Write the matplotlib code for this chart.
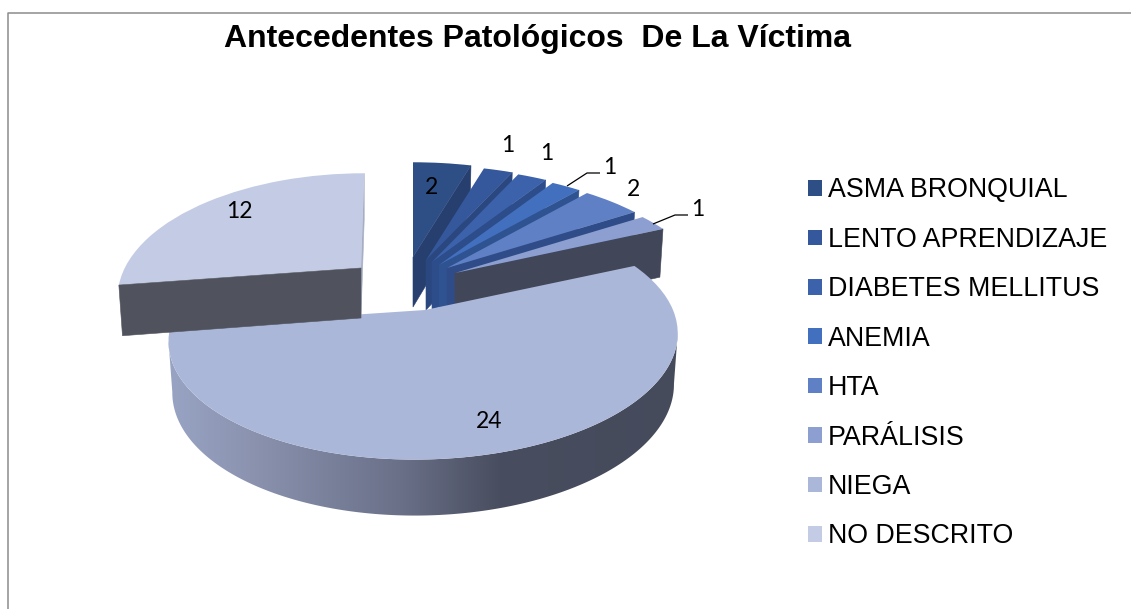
import numpy as np
import matplotlib
matplotlib.use("Agg")
import matplotlib.pyplot as plt
from matplotlib.transforms import Transform
from matplotlib.patches import Polygon
from matplotlib.colors import to_rgb

# ---- data ----
categories = ["ASMA BRONQUIAL", "LENTO APRENDIZAJE", "DIABETES MELLITUS", "ANEMIA",
              "HTA", "PARÁLISIS", "NIEGA", "NO DESCRITO"]
values = [2, 1, 1, 1, 2, 1, 24, 12]
title = "Antecedentes Patológicos  De La Víctima"

# ---- style / layout (pixel space) ----
W, H = 1131, 609
top_colors = ["#2E4E86", "#34589B", "#3B62AB", "#4270BE", "#6080C6", "#8C9FD0", "#AAB7D9", "#C3CCE4"]
face_colors = ["#263F6F", "#2A4780", "#2C4C8A", "#2F5290", "#2F4C88", "#414759", "#454B5B", "#A6AEC4"]
apex_px = [(413, 257), (426, 260), (432, 262), (439, 265), (447, 268), (455, 273), (425, 310), (361, 268)]
x_scale = [1, 1, 1, 1, 1, 1, 0.992, 0.945]
shear = [0, 0, 0, 0, 0, 0, 8, 4]
RX, RY, PERSP = 250.0, 116.0, 0.2245
DEPTH, DEPTH_GROW, X_SHRINK = 50.0, 1.04, 0.985
label_px = [(431, 188), (508, 146), (547, 153), (610, 167), (634, 190), (698, 210), (489, 421), (239, 212)]
leaders = [[(567, 186), (587, 173), (600, 173)], [(653, 224), (675, 215), (688, 215)]]
grad_x = [172, 250, 400, 500, 690]
grad_c = ["#98A3C3", "#8B93AF", "#6A7088", "#484D5F", "#454B5B"]


def rel(x, y, i):
    w = 1 + PERSP * y
    return (RX * x_scale[i] * x + shear[i] * y) / w, -RY * y / w


class Proj(Transform):
    input_dims = output_dims = 2
    is_affine = False

    def __init__(self, i):
        super().__init__()
        self.i = i

    def transform_non_affine(self, v):
        v = np.asarray(v, float)
        u, w = rel(v[:, 0], v[:, 1], self.i)
        return np.column_stack([apex_px[self.i][0] + u, apex_px[self.i][1] + w])


def pts(i, th):
    th = np.radians(np.atleast_1d(th))
    u, v = rel(np.cos(th), np.sin(th), i)
    ax_, ay_ = apex_px[i]
    return np.column_stack([ax_ + u, ay_ + v]), np.column_stack([ax_ + u * X_SHRINK, ay_ + v * DEPTH_GROW + DEPTH])


def face(ax, i, th, color, z):
    top, bot = pts(i, th)
    ax_, ay_ = apex_px[i]
    xs = [ax_, top[0, 0], bot[0, 0], ax_]
    ys = [ay_, top[0, 1], bot[0, 1], ay_ + DEPTH]
    ax.fill(xs, ys, color=color, lw=0.4, zorder=z)


plt.rcParams["font.family"] = ["Liberation Sans", "DejaVu Sans"]
fig = plt.figure(figsize=(W / 100, H / 100), dpi=100, facecolor="white")
ax = fig.add_axes([0, 0, 1, 1])
wedges, _ = ax.pie(values, colors=top_colors, startangle=90, counterclock=False)
ax.axis("off")

for i, wd in enumerate(wedges):
    z = 3 + i
    wd.set_transform(Proj(i) + ax.transData)
    wd.set_zorder(z + 0.5)
    wd.set_edgecolor("none")
    wd.set_clip_on(False)
    if i < 6:
        face(ax, i, wd.theta1, face_colors[i], z + 0.2)
    elif categories[i] == "NIEGA":
        ths = np.linspace(wd.theta1, wd.theta2, 400)
        top, bot = pts(i, ths)
        a, b = sorted([int(np.argmax(top[:, 0])), int(np.argmin(top[:, 0]))])
        top, bot = top[a:b + 1], bot[a:b + 1]
        rgb = np.array([to_rgb(c) for c in grad_c])
        xs = np.arange(150, 700)
        grad = np.stack([np.interp(xs, grad_x, rgb[:, n]) for n in range(3)], axis=-1)[None, :, :]
        im = ax.imshow(grad, extent=(150, 700, 530, 260), aspect="auto", zorder=z + 0.2,
                       interpolation="bilinear")
        outline = Polygon(np.vstack([top, bot[::-1]]), closed=True, transform=ax.transData)
        im.set_clip_path(outline)
    else:
        face(ax, i, wd.theta1, face_colors[i], z + 0.2)
        face(ax, i, wd.theta2, "#50535E", z + 0.7)

ax.set_aspect("auto")
ax.set_xlim(0, W)
ax.set_ylim(H, 0)

for (x, y), v in zip(label_px, values):
    ax.text(x, y, str(v), ha="center", va="center", fontsize=16.5, color="black",
            family=["Lato", "DejaVu Sans"], zorder=20)
for line in leaders:
    xs, ys = zip(*line)
    ax.plot(xs, ys, color="black", lw=0.9, zorder=20, solid_capstyle="butt")

# chart frame: only left and top edges fall inside the crop
ax.plot([7.5, 7.5, W], [H, 12.5, 12.5], color="#8C8C8C", lw=1.1, zorder=1, clip_on=False)

ax.text(537.5, 39, title, ha="center", va="center", fontsize=23, fontweight="bold", color="black", zorder=20)

ax.legend(wedges, categories, loc="upper left", bbox_to_anchor=(808 / W, 1 - 177.5 / H),
          frameon=False, fontsize=19.3, handlelength=0.52, handleheight=0.52,
          handletextpad=0.22, labelspacing=0.873, borderpad=0, borderaxespad=0, labelcolor="black")

fig.savefig("out.png", dpi=100, facecolor="white")
